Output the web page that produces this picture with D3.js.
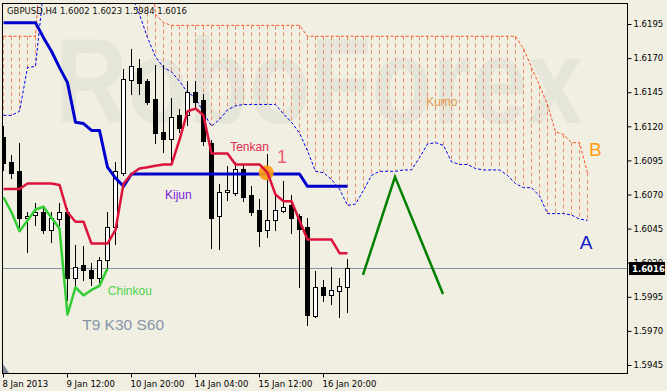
<!DOCTYPE html>
<html><head><meta charset="utf-8">
<script src="https://cdn.jsdelivr.net/npm/d3@7"></script>
<style>html,body{margin:0;padding:0;background:#F1EFE2;}svg{display:block}</style>
</head><body><svg id="c" width="667" height="391"></svg>
<script>
// ---------- data ----------
const titleText = "GBPUSD,H4  1.6002 1.6023 1.5984 1.6016";
const timeLabels = ["8 Jan 2013","9 Jan 12:00","10 Jan 20:00","14 Jan 04:00","15 Jan 12:00","16 Jan 20:00"];
const timeTickBars = [0,8,16,24,32,40];
const priceTicks = [1.6195,1.6170,1.6145,1.6120,1.6095,1.6070,1.6045,1.6020,1.5995,1.5970,1.5945];
const lastPrice = 1.6016;

const open  = [1.6112,1.6094,1.6087,1.6053,1.6055,1.6057,1.6044,1.6052,1.6057,1.6009,1.6018,1.6015,1.6009,1.6022,1.6046,1.6086,1.6154,1.6163,1.6153,1.6140,1.6116,1.6111,1.6128,1.6128,1.6145,1.6139,1.6108,1.6054,1.6072,1.6071,1.6089,1.6070,1.6059,1.6044,1.6051,1.6058,1.6062,1.6054,1.6046,1.5981,1.6002,1.5996,1.5999,1.6002];
const high  = [1.6120,1.6099,1.6108,1.6057,1.6064,1.6061,1.6057,1.6064,1.6060,1.6033,1.6032,1.6020,1.6024,1.6057,1.6094,1.6162,1.6177,1.6169,1.6155,1.6165,1.6165,1.6141,1.6133,1.6153,1.6153,1.6144,1.6110,1.6078,1.6091,1.6094,1.6092,1.6076,1.6067,1.6100,1.6069,1.6080,1.6070,1.6056,1.6053,1.6014,1.6007,1.6017,1.6009,1.6023];
const low   = [1.6088,1.6082,1.6046,1.6028,1.6048,1.6042,1.6035,1.6048,1.5993,1.6002,1.6007,1.6004,1.6006,1.6015,1.6034,1.6084,1.6144,1.6144,1.6136,1.6108,1.6101,1.6092,1.6116,1.6121,1.6133,1.6106,1.6031,1.6030,1.6066,1.6070,1.6065,1.6055,1.6032,1.6039,1.6044,1.6057,1.6042,1.6002,1.5974,1.5980,1.5992,1.5990,1.5980,1.5984];
const close = [1.6093,1.6086,1.6053,1.6054,1.6057,1.6044,1.6053,1.6057,1.6009,1.6017,1.6015,1.6009,1.6022,1.6046,1.6087,1.6155,1.6164,1.6152,1.6138,1.6115,1.6111,1.6127,1.6119,1.6145,1.6138,1.6109,1.6053,1.6072,1.6073,1.6089,1.6068,1.6057,1.6043,1.6051,1.6059,1.6061,1.6053,1.6045,1.5982,1.6002,1.5996,1.6000,1.6003,1.6016];

const tenkan = [1.6074,1.6074,1.6074,1.6078,1.6078,1.6078,1.6078,1.6077,1.6057,1.6050,1.6050,1.6034,1.6034,1.6034,1.6044,1.6078,1.6085,1.6089,1.6090,1.6091,1.6092,1.6092,1.6110,1.6131,1.6133,1.6128,1.6100,1.6100,1.6100,1.6092,1.6092,1.6092,1.6092,1.6086,1.6070,1.6065,1.6065,1.6051,1.6037,1.6037,1.6037,1.6037,1.6027,1.6027];
const kijun  = [1.6196,1.6196,1.6196,1.6196,1.6196,1.6185,1.6175,1.6163,1.6152,1.6123,1.6122,1.6117,1.6117,1.6090,1.6082,1.6076,1.6085,1.6085,1.6085,1.6085,1.6085,1.6085,1.6085,1.6085,1.6085,1.6085,1.6085,1.6085,1.6085,1.6085,1.6085,1.6085,1.6085,1.6085,1.6085,1.6085,1.6085,1.6085,1.6076,1.6076,1.6076,1.6076,1.6076,1.6076];
const chinkou = [1.6068,1.6057,1.6043,1.6051,1.6059,1.6061,1.6053,1.6045,1.5982,1.6002,1.5996,1.6000,1.6003,1.6016];
const senkouA = [1.6128,1.6128,1.6131,1.6163,1.6164,1.6220,1.6235,1.6235,1.6235,1.6235,1.6235,1.6235,1.6235,1.6235,1.6235,1.6235,1.6216,1.6202,1.6185,1.6171,1.6163,1.6160,1.6153,1.6145,1.6141,1.6130,1.6120,1.6125,1.6132,1.6135,1.6136,1.6136,1.6136,1.6136,1.6136,1.6129,1.6123,1.6115,1.6102,1.6087,1.6086,1.6081,1.6074,1.6062,1.6063,1.6073,1.6084,1.6087,1.6087,1.6087,1.6088,1.6088,1.6097,1.6107,1.6108,1.6106,1.6094,1.6092,1.6092,1.6089,1.6088,1.6088,1.6088,1.6084,1.6078,1.6075,1.6075,1.6069,1.6056,1.6056,1.6056,1.6055,1.6052,1.6051];
const senkouB = [1.6186,1.6186,1.6186,1.6186,1.6186,1.6265,1.6265,1.6265,1.6265,1.6265,1.6265,1.6265,1.6265,1.6265,1.6265,1.6265,1.6265,1.6265,1.6265,1.6202,1.6196,1.6194,1.6194,1.6194,1.6194,1.6194,1.6194,1.6194,1.6194,1.6194,1.6194,1.6194,1.6194,1.6194,1.6194,1.6194,1.6194,1.6194,1.6186,1.6186,1.6186,1.6186,1.6186,1.6186,1.6186,1.6186,1.6186,1.6186,1.6186,1.6186,1.6186,1.6186,1.6186,1.6186,1.6186,1.6186,1.6186,1.6186,1.6186,1.6186,1.6186,1.6186,1.6186,1.6186,1.6186,1.6177,1.6163,1.6150,1.6136,1.6116,1.6114,1.6108,1.6108,1.6086];

const patternBars   = [45,49,55];
const patternPrices = [1.6011,1.6083,1.5997];
const crossBar = 32.9, crossPrice = 1.6086;

const labelTexts  = ["Tenkan","1","Kijun","Chinkou","Kumo","B","A","T9 K30 S60"];
const labelBars   = [28.4,34.25,20.25,13.1,52.9,73.25,72.1,9.9];
const labelPrices = [1.6102,1.6093,1.6067,1.5996,1.6135,1.6098,1.6030,1.5971];
const labelColors = ["#DC2A50","#EE6070","#7A22D8","#4CD24C","#E39A4E","#FF9A10","#1414CC","#8595A8"];
const labelSizes  = [12,18,12,12,12,19,19,15.5];

// ---------- scales ----------
const L=2,T=3,R=627,B=373;
const x = d3.scaleLinear().domain([0,78]).range([3,627]);
const y = d3.scaleLinear().domain([1.5945,1.6195]).range([365,24]);
const svg = d3.select("#c");
svg.append("rect").attr("width",667).attr("height",391).attr("fill","#F1EFE2");
svg.append("defs").append("clipPath").attr("id","pc").append("rect")
  .attr("x",L).attr("y",T).attr("width",R-L).attr("height",B-T);
const g = svg.append("g").attr("clip-path","url(#pc)");

// watermark (background decoration)
g.append("text").attr("transform","translate(55,123) scale(1,1.2)").attr("x",0).attr("y",0)
  .attr("font-family","Liberation Sans, Arial")
  .attr("font-weight","bold").attr("font-size",100).attr("fill","#E5E5D9").text("RoboForex");

// kumo hatch
const idx = d3.range(senkouA.length);
g.append("g").selectAll("line").data(idx.filter(i=>senkouB[i]>senkouA[i])).join("line")
  .attr("x1",i=>x(i)+0.5).attr("x2",i=>x(i)+0.5)
  .attr("y1",i=>y(senkouB[i])).attr("y2",i=>y(senkouA[i]))
  .attr("stroke","#EF8B68").attr("stroke-width",1).attr("stroke-dasharray","4,3");

const line = d3.line().x((d,i)=>x(i)+0.5).y(d=>y(d));
g.append("path").attr("d",line(senkouB)).attr("fill","none").attr("stroke","#FF5020")
  .attr("stroke-width",1).attr("stroke-dasharray","3,2");
g.append("path").attr("d",line(senkouA)).attr("fill","none").attr("stroke","#0000F0")
  .attr("stroke-width",1).attr("stroke-dasharray","3,2");

// last price line
g.append("line").attr("x1",L).attr("x2",R).attr("y1",Math.round(y(lastPrice))+0.5).attr("y2",Math.round(y(lastPrice))+0.5)
  .attr("stroke","#8794A2").attr("stroke-width",1);

// candles
const cg = g.append("g");
d3.range(open.length).forEach(i=>{
  const cx = x(i)+0.5;
  cg.append("line").attr("x1",cx).attr("x2",cx)
    .attr("y1",Math.round(y(high[i]))).attr("y2",Math.round(y(low[i]))+1)
    .attr("stroke","#000").attr("stroke-width",1);
  const top = Math.round(y(Math.max(open[i],close[i])));
  const bot = Math.round(y(Math.min(open[i],close[i])));
  const up = close[i]>=open[i];
  cg.append("rect").attr("x",cx-2).attr("width",4).attr("y",top+0.5).attr("height",Math.max(bot-top,0.01))
    .attr("fill",up?"#FFFFFF":"#000000").attr("stroke","#000").attr("stroke-width",1);
});

// pattern
g.append("path").attr("d",d3.line().x(d=>x(d[0])).y(d=>y(d[1]))(patternBars.map((b,i)=>[b,patternPrices[i]])))
  .attr("fill","none").attr("stroke","#008000").attr("stroke-width",2.5);

// chinkou, kijun
g.append("path").attr("d",line(chinkou)).attr("fill","none").attr("stroke","#32CD32").attr("stroke-width",2.5).attr("stroke-linejoin","round");
g.append("path").attr("d",line(kijun)).attr("fill","none").attr("stroke","#0000CD").attr("stroke-width",3).attr("stroke-linejoin","round");
g.append("circle").attr("cx",x(crossBar)).attr("cy",y(crossPrice)).attr("r",7.5).attr("fill","#FF9A10").attr("opacity",0.9);
g.append("path").attr("d",line(tenkan)).attr("fill","none").attr("stroke","#DC143C").attr("stroke-width",2.5).attr("stroke-linejoin","round");

// labels
g.append("g").selectAll("text").data(labelTexts).join("text")
  .attr("x",(d,i)=>x(labelBars[i])).attr("y",(d,i)=>y(labelPrices[i]))
  .attr("font-family","Liberation Sans, Arial").attr("font-size",(d,i)=>labelSizes[i])
  .attr("fill",(d,i)=>labelColors[i]).text(d=>d);

// title
svg.append("text").attr("x",7).attr("y",14).attr("font-family","DejaVu Sans").attr("font-size",8.5)
  .attr("fill","#111").text(titleText);

// frame
svg.append("rect").attr("x",L+0.5).attr("y",T+0.5).attr("width",R-L).attr("height",B-T)
  .attr("fill","none").attr("stroke","#000").attr("stroke-width",1);

// shift marker
svg.append("path").attr("d",`M${L+1},${B-9} L${L+1},${B} L${L+7},${B} Z`).attr("fill","#7D8791");

// axes
const ya = svg.append("g").attr("transform",`translate(${R+0.5},0)`)
  .call(d3.axisRight(y).tickValues(priceTicks).tickSize(4).tickPadding(2).tickFormat(d3.format(".4f")));
ya.select(".domain").remove();
ya.selectAll("text").attr("font-family","DejaVu Sans").attr("font-size",8.5).attr("fill","#000");
const xa = svg.append("g").attr("transform",`translate(0,${B+0.5})`)
  .call(d3.axisBottom(x).tickValues(timeTickBars).tickSize(4).tickFormat((d,i)=>timeLabels[i]));
xa.select(".domain").remove();
xa.selectAll("text").attr("font-family","DejaVu Sans").attr("font-size",8.5).attr("fill","#000")
  .attr("text-anchor","start").attr("x",-1);

// last price tag
const ly = y(lastPrice);
svg.append("rect").attr("x",629).attr("y",Math.round(ly)-6).attr("width",36).attr("height",13).attr("fill","#000");
svg.append("text").attr("x",632).attr("y",Math.round(ly)+4).attr("font-family","DejaVu Sans").attr("font-size",8.5)
  .attr("font-weight","bold").attr("fill","#fff").text(d3.format(".4f")(lastPrice));
</script></body></html>
